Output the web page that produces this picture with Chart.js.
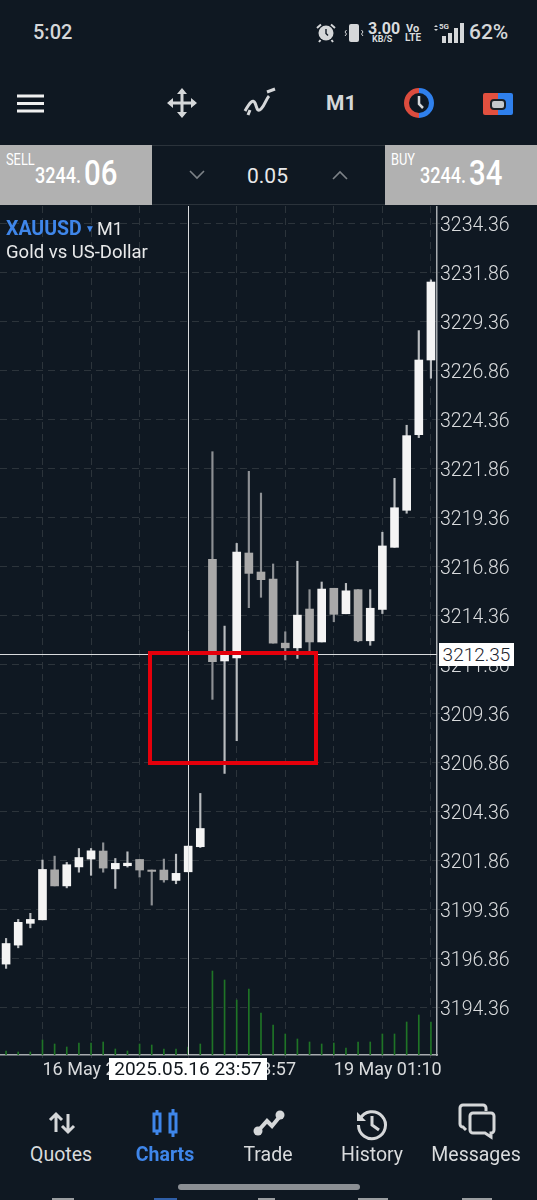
<!DOCTYPE html>
<html>
<head>
<meta charset="utf-8">
<title>XAUUSD M1</title>
<script src="https://cdn.jsdelivr.net/npm/chart.js@4"></script>
<style>
  html, body { margin: 0; padding: 0; background: #0f1822; }
  body { position: relative; width: 537px; height: 1200px; overflow: hidden; font-family: Roboto, sans-serif; color: #d9dbdd; }
  .abs { position: absolute; white-space: nowrap; }
  svg { position: absolute; overflow: visible; }
  #grafico { position: absolute; left: 0; top: 206px; }
  .price { position: absolute; top: 145px; width: 152px; height: 60px; background: #b1b1b1; color: #fff; }
  .price .tag { position: absolute; left: 6px; top: 5px; font-size: 16px; transform: scaleX(.8); transform-origin: left; }
  .price .small { position: absolute; top: 18px; font-size: 22px; font-weight: 500; transform: scaleX(.82); transform-origin: left; }
  .price .big { position: absolute; top: 8px; font-size: 35px; font-weight: 500; transform: scaleX(.84); transform-origin: left; }
  .tab { position: absolute; top: 1143px; font-size: 19.5px; color: #d9dbdd; transform: translateX(-50%); white-space: nowrap; }
</style>
</head>
<body>
<!-- barra de status -->
<div class="abs" style="left:33px;top:20px;font-size:20px;font-weight:500;color:#d5d7d9">5:02</div>
<svg style="left:316px;top:22px" width="22" height="22" viewBox="0 0 22 22">
  <circle cx="10" cy="11" r="7.5" fill="#d5d7d9"/><path d="M10 7v4.5l2 2" stroke="#0f1822" stroke-width="1.4" fill="none"/>
  <path d="M1 6l4-3.5M19 6l-4-3.5M4.5 18l-1.5 2M15.5 18l1.500 2" stroke="#d5d7d9" stroke-width="2"/>
</svg>
<svg style="left:344px;top:23px" width="20" height="20" viewBox="0 0 20 20">
  <rect x="5" y="1" width="10" height="18" rx="2" fill="#d5d7d9"/>
  <path d="M2.500 7l-1.500 2 1.500 2-1.500 2M17.500 7l1.500 2-1.500 2 1.500 2" stroke="#d5d7d9" stroke-width="1" fill="none"/>
</svg>
<div class="abs" style="left:368px;top:21px;font-size:16px;font-weight:700;line-height:15px">3.00</div>
<div class="abs" style="left:372px;top:35px;font-size:9px;font-weight:700;line-height:9px">KB/S</div>
<div class="abs" style="left:406px;top:23px;font-size:11px;font-weight:700;line-height:11px">Vo</div>
<div class="abs" style="left:405px;top:33px;font-size:10px;font-weight:700;line-height:10px">LTE</div>
<div class="abs" style="left:439px;top:23px;font-size:8px;font-weight:700;line-height:8px">5G</div>
<svg style="left:431px;top:22px" width="34" height="22" viewBox="0 0 34 22">
  <path d="M3 5l2-2 2 2zM3 7l2 2 2-2z" fill="#d5d7d9"/>
  <rect x="11" y="14" width="4" height="7" fill="#d5d7d9"/><rect x="17" y="11" width="4" height="10" fill="#d5d7d9"/>
  <rect x="23" y="6" width="4" height="15" fill="#d5d7d9"/><rect x="29" y="1" width="4" height="20" fill="#d5d7d9"/>
</svg>
<div class="abs" style="left:469px;top:20px;font-size:21px;font-weight:500;color:#d5d7d9">62%</div>

<!-- barra de ferramentas -->
<svg style="left:16px;top:93px" width="30" height="22"><path d="M1 3h27M1 10.500h27M1 18h27" stroke="#f0f0f0" stroke-width="3"/></svg>
<svg style="left:166px;top:87px" width="32" height="32" viewBox="0 0 32 32">
  <path d="M16 3v26M3 16h26" stroke="#d5d7d9" stroke-width="3"/>
  <path d="M16 1l5 6H11zM16 31l5-6H11zM1 16l6-5v10zM31 16l-6-5v10z" fill="#d5d7d9"/>
</svg>
<svg style="left:243px;top:87px" width="34" height="32" viewBox="0 0 34 32">
  <path d="M2 24c5-9 8-12 10-8s2 10 6 6 5-10 8-13" stroke="#d5d7d9" stroke-width="3" fill="none"/>
  <path d="M5 28l2-5M24 5l8-3" stroke="#d5d7d9" stroke-width="3" fill="none"/>
</svg>
<div class="abs" style="left:326px;top:91px;font-size:21px;font-weight:700;color:#d5d7d9">M1</div>
<svg style="left:403px;top:88px" width="32" height="30" viewBox="0 0 32 30">
  <path d="M16 0a15 15 0 0 0 0 30v-5a10 10 0 0 1 0-20z" fill="#dc4c3e"/>
  <path d="M16 0a15 15 0 0 1 0 30v-5a10 10 0 0 0 0-20z" fill="#2f80ed"/>
  <path d="M16 8v8l4 4" stroke="#d5d7d9" stroke-width="2.500" fill="none"/>
</svg>
<svg style="left:482px;top:92px" width="32" height="24" viewBox="0 0 32 24">
  <path d="M3 1h13v22H3a2 2 0 0 1-2-2V3a2 2 0 0 1 2-2z" fill="#e2503f"/>
  <path d="M16 1h13a2 2 0 0 1 2 2v18a2 2 0 0 1-2 2H16z" fill="#2f80ed"/>
  <rect x="9" y="8" width="14" height="9" rx="3" fill="#c5c8cb" stroke="#1b2026" stroke-width="2"/>
</svg>

<!-- compra e venda -->
<div class="price" style="left:0">
  <div class="tag">SELL</div><div class="small" style="left:35px">3244.</div><div class="big" style="left:84px">06</div>
</div>
<div class="price" style="left:385px">
  <div class="tag">BUY</div><div class="small" style="left:35px">3244.</div><div class="big" style="left:84px">34</div>
</div>
<div class="abs" style="left:152px;top:145px;width:233px;height:60px;border-top:1px solid #2b333b;border-bottom:1px solid #2b333b;box-sizing:border-box"></div>
<svg style="left:189px;top:170px" width="16" height="10"><path d="M1 1l7 7 7-7" stroke="#7d8287" stroke-width="1.600" fill="none"/></svg>
<svg style="left:332px;top:170px" width="16" height="10"><path d="M1 9l7-7 7 7" stroke="#7d8287" stroke-width="1.600" fill="none"/></svg>
<div class="abs" style="left:247px;top:164px;font-size:21px;font-weight:400;color:#e8e9ea">0.05</div>

<canvas id="grafico" width="537" height="874" style="width:537px;height:874px"></canvas>

<!-- nome do símbolo -->
<div class="abs" style="left:6px;top:217px;font-size:19.500px;font-weight:700;color:#3f86ea">XAUUSD</div>
<div class="abs" style="left:85px;top:223px;font-size:10px;color:#3f86ea">▼</div>
<div class="abs" style="left:97px;top:218px;font-size:18px;color:#e8e9ea">M1</div>
<div class="abs" style="left:6px;top:241px;font-size:18.500px;color:#e8e9ea">Gold vs US-Dollar</div>

<!-- rótulos da mira -->
<div class="abs" style="left:439px;top:643px;width:75px;height:23px;background:#fff;color:#1a222b;font-size:19px;font-weight:300;line-height:24px;text-align:center">3212.35</div>
<div class="abs" style="left:109px;top:1058px;width:158px;height:22px;background:#fff;color:#10161c;font-size:19px;line-height:22px;text-align:center">2025.05.16 23:57</div>

<!-- retângulo vermelho -->
<div class="abs" style="left:148px;top:651px;width:170px;height:114px;border:4px solid #e5000b;box-sizing:border-box"></div>

<!-- abas -->
<svg style="left:48px;top:1110px" width="28" height="26" viewBox="0 0 28 26">
  <path d="M8 22V5M2 10l6-6 6 6M20 4v17M14 16l6 6 6-6" stroke="#d5d7d9" stroke-width="3" fill="none"/>
</svg>
<svg style="left:152px;top:1108px" width="28" height="30" viewBox="0 0 28 30">
  <g stroke="#3f86ea" stroke-width="3" fill="none">
    <rect x="2" y="6" width="6" height="17"/><path d="M5 2v4M5 23v4"/>
    <rect x="18" y="6" width="6" height="18"/><path d="M21 1v5M21 24v5"/>
  </g>
</svg>
<svg style="left:253px;top:1108px" width="32" height="30" viewBox="0 0 32 30">
  <path d="M5 23l9-10 5 5 9-11" stroke="#d5d7d9" stroke-width="4" fill="none"/>
  <circle cx="5" cy="23" r="4.500" fill="#d5d7d9"/><circle cx="27" cy="7" r="4.500" fill="#d5d7d9"/>
</svg>
<svg style="left:356px;top:1108px" width="32" height="32" viewBox="0 0 32 32">
  <path d="M4 11a13.500 13.500 0 1 1-1.500 6" stroke="#d5d7d9" stroke-width="3" fill="none"/>
  <path d="M1 4v9h9z" fill="#d5d7d9"/><path d="M16 8v9l7 5" stroke="#d5d7d9" stroke-width="3" fill="none"/>
</svg>
<svg style="left:458px;top:1103px" width="38" height="36" viewBox="0 0 38 36">
  <path d="M28 8V5a3 3 0 0 0-3-3H5a3 3 0 0 0-3 3v16a3 3 0 0 0 3 3l3 3" stroke="#d5d7d9" stroke-width="3" fill="none"/>
  <path d="M15 10h18a3 3 0 0 1 3 3v14a3 3 0 0 1-3 3v4l-6-4H15a3 3 0 0 1-3-3V13a3 3 0 0 1 3-3z" stroke="#d5d7d9" stroke-width="3" fill="none"/>
</svg>
<div class="tab" style="left:61px">Quotes</div>
<div class="tab" style="left:165px;color:#3f86ea;font-weight:700">Charts</div>
<div class="tab" style="left:268px">Trade</div>
<div class="tab" style="left:372px">History</div>
<div class="tab" style="left:476px">Messages</div>
<div class="abs" style="left:178px;top:1184px;width:182px;height:6px;border-radius:3px;background:#8b8f94"></div>
<!-- pontas dos ícones cortados na borda da tela -->
<div class="abs" style="left:52px;top:1198px;width:22px;height:2px;background:#9a9da0"></div>
<div class="abs" style="left:154px;top:1198px;width:23px;height:2px;background:#2f5fa8"></div>
<div class="abs" style="left:258px;top:1198px;width:17px;height:2px;background:#9a9da0"></div>
<div class="abs" style="left:358px;top:1198px;width:30px;height:2px;background:#9a9da0"></div>
<div class="abs" style="left:462px;top:1198px;width:30px;height:2px;background:#9a9da0"></div>

<script>
// Dados
const categories = ['16 May 23:42','16 May 23:43','16 May 23:44','16 May 23:45','16 May 23:46','16 May 23:47','16 May 23:48','16 May 23:49','16 May 23:50','16 May 23:51','16 May 23:52','16 May 23:53','16 May 23:54','16 May 23:55','16 May 23:56','16 May 23:57','16 May 23:58','19 May 01:00','19 May 01:01','19 May 01:02','19 May 01:03','19 May 01:04','19 May 01:05','19 May 01:06','19 May 01:07','19 May 01:08','19 May 01:09','19 May 01:10','19 May 01:11','19 May 01:12','19 May 01:13','19 May 01:14','19 May 01:15','19 May 01:16','19 May 01:17','19 May 01:18'];
const opens = [3196.56,3197.53,3198.64,3198.82,3201.37,3200.55,3201.52,3201.92,3202.33,3201.42,3201.58,3201.90,3201.36,3201.36,3200.83,3201.27,3202.55,3217.22,3212.03,3212.19,3217.54,3216.57,3216.21,3212.94,3212.70,3214.68,3213.00,3215.74,3214.44,3215.67,3213.06,3214.66,3217.83,3219.72,3223.58,3227.39];
const highs = [3197.87,3198.84,3199.15,3201.87,3202.07,3201.75,3202.46,3202.46,3202.75,3201.95,3202.29,3201.90,3201.36,3201.92,3202.17,3202.58,3205.27,3222.71,3213.81,3218.03,3221.71,3220.60,3216.98,3213.52,3217.12,3215.67,3216.06,3215.74,3215.99,3215.67,3215.67,3218.60,3221.35,3224.06,3228.89,3231.48];
const lows = [3196.34,3197.39,3198.41,3198.82,3200.55,3200.45,3201.25,3201.09,3201.25,3200.42,3201.51,3201.00,3199.57,3200.74,3200.66,3201.27,3202.51,3210.07,3206.29,3207.96,3214.75,3215.28,3212.94,3212.08,3212.16,3212.50,3213.00,3214.03,3214.44,3213.01,3212.83,3214.45,3217.83,3219.57,3223.43,3226.46];
const closes = [3197.61,3198.69,3198.84,3201.39,3200.55,3201.63,3202.00,3202.34,3201.46,3201.70,3201.71,3201.36,3201.29,3200.86,3201.19,3202.58,3203.48,3211.99,3212.33,3217.59,3216.50,3216.18,3212.94,3212.70,3214.37,3213.00,3215.70,3214.41,3215.61,3213.06,3214.72,3217.90,3219.85,3223.53,3227.39,3231.37];
const volumes = [4,3,3,15,11,8,12,12,13,6,4,11,10,6,6,8,11,84,75,55,66,42,30,21,16,13,11,12,7,13,13,21,21,33,40,33];

const priceTicks = [3234.36,3231.86,3229.36,3226.86,3224.36,3221.86,3219.36,3216.86,3214.36,3211.86,3209.36,3206.86,3204.36,3201.86,3199.36,3196.86,3194.36];
const gridIndexes = [3,7,11,15,19,23,27,31,35];
const timeTickIndexes = [3,15,27];
const timeTickLabels = ['16 May 23:45','16 May 23:57','19 May 01:10'];
const priceMin = 3191.92;
const priceMax = 3235.25;
const volumeMax = 849;
const crossIndex = 15;
const crossPrice = 3212.35;

// Cores
const upColor = '#f4f4f4';
const downColor = '#a9a9a9';
const gridColor = '#2c343b';
const axisColor = '#a7abaf';

const crosshair = {
    id: 'crosshair',
    afterDatasetsDraw(chart) {
        const { ctx, chartArea, scales } = chart;
        const x = Math.floor(scales.x.getPixelForValue(crossIndex)) + 0.5;
        const y = Math.floor(scales.y.getPixelForValue(crossPrice)) + 0.5;
        ctx.save();
        ctx.strokeStyle = '#d9dbdd';
        ctx.lineWidth = 1;
        ctx.beginPath();
        ctx.moveTo(x, chartArea.top);
        ctx.lineTo(x, chartArea.bottom);
        ctx.moveTo(0, y);
        ctx.lineTo(chartArea.right, y);
        ctx.stroke();
        ctx.restore();
    }
};

const ctx = document.getElementById('grafico').getContext('2d');
const isUp = i => closes[i] >= opens[i];

new Chart(ctx, {
    type: 'bar',
    data: {
        labels: categories,
        datasets: [
            {
                label: 'Volume',
                yAxisID: 'yVol',
                data: volumes,
                backgroundColor: '#1f7426',
                barThickness: 1,
                order: 3
            },
            {
                label: 'High-Low',
                data: categories.map((c, i) => [lows[i], highs[i]]),
                backgroundColor: categories.map((c, i) => isUp(i) ? '#b9bcbf' : '#8d9094'),
                barThickness: 1.5,
                order: 2
            },
            {
                label: 'Open-Close',
                data: categories.map((c, i) => [opens[i], closes[i]]),
                backgroundColor: categories.map((c, i) => isUp(i) ? upColor : downColor),
                barThickness: 8,
                order: 1
            }
        ]
    },
    options: {
        responsive: false,
        animation: false,
        devicePixelRatio: 1,
        layout: { padding: { left: -0.5, right: 0, top: 0, bottom: 0 } },
        datasets: { bar: { grouped: false, borderWidth: 0, borderSkipped: false } },
        plugins: { legend: { display: false }, tooltip: { enabled: false } },
        scales: {
            x: {
                afterFit: scale => {
                    scale.height = 25;
                    scale.paddingLeft = 0;
                    scale.paddingRight = 0;
                },
                afterBuildTicks: scale => {
                    scale.ticks = gridIndexes.map(v => ({ value: v }));
                },
                grid: { offset: false, color: gridColor, tickLength: 3 },
                border: { color: axisColor, width: 1.5, dash: [7, 5] },
                ticks: {
                    autoSkip: false,
                    maxRotation: 0,
                    align: 'start',
                    padding: 2,
                    color: '#d9dbdd',
                    font: { family: 'Roboto', size: 18 },
                    callback: value => {
                        const k = timeTickIndexes.indexOf(value);
                        return k >= 0 ? timeTickLabels[k] : '';
                    }
                }
            },
            y: {
                position: 'right',
                min: priceMin,
                max: priceMax,
                afterFit: scale => {
                    scale.width = 100;
                    scale.paddingTop = 0;
                    scale.paddingBottom = 0;
                },
                afterBuildTicks: scale => { scale.ticks = priceTicks.map(v => ({ value: v })); },
                grid: { color: gridColor, tickLength: 3 },
                border: { color: axisColor, width: 1.5, dash: [7, 5] },
                ticks: {
                    autoSkip: false,
                    crossAlign: 'near',
                    padding: 0,
                    labelOffset: 2.5,
                    color: '#d9dbdd',
                    font: { family: 'Roboto', size: 19.5, weight: 300 },
                    callback: value => value.toFixed(2)
                }
            },
            yVol: {
                display: false,
                min: 0,
                max: volumeMax
            }
        }
    },
    plugins: [crosshair]
});
</script>
</body>
</html>
